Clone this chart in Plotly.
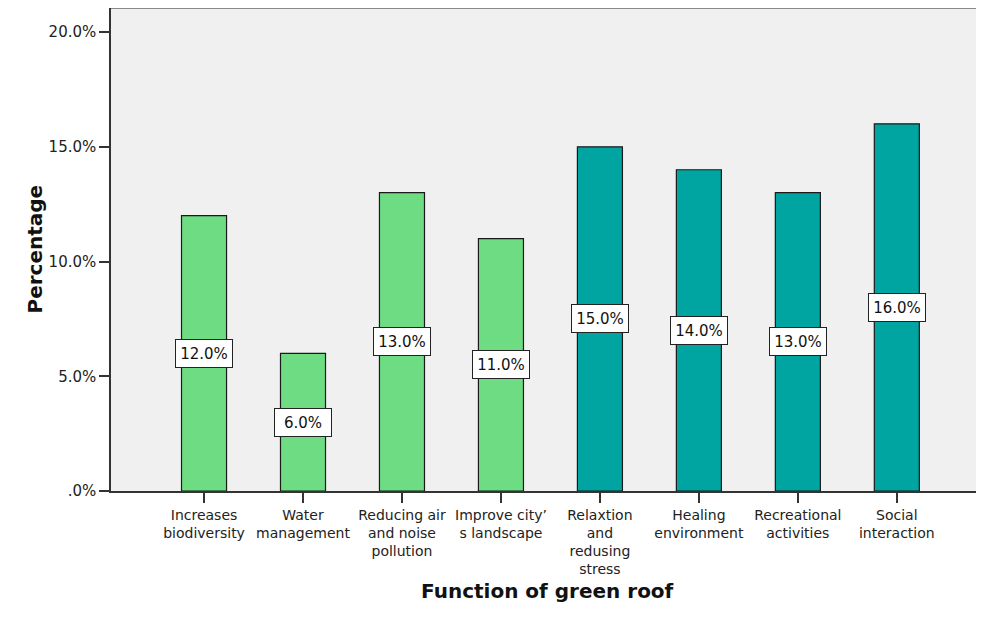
import plotly.graph_objects as go

categories = ["Increases<br>biodiversity", "Water<br>management", "Reducing air<br>and noise<br>pollution",
              "Improve city\u2019<br>s landscape", "Relaxtion<br>and<br>redusing<br>stress",
              "Healing<br>environment", "Recreational<br>activities", "Social<br>interaction"]
values = [12.0, 6.0, 13.0, 11.0, 15.0, 14.0, 13.0, 16.0]
bar_colors = ["#6EDC82"] * 4 + ["#00A5A1"] * 4
y_tickvals = [0, 5, 10, 15, 20]
y_ticktext = [".0%", "5.0%", "10.0%", "15.0%", "20.0%"]

FONT = "DejaVu Sans, Verdana, Arial"
xs = list(range(len(categories)))

fig = go.Figure()
fig.add_trace(go.Bar(
    x=xs, y=values, width=0.455,
    marker=dict(color=bar_colors, line=dict(color="#1a1a1a", width=1.2)),
    hoverinfo="skip",
))

for x, v in zip(xs, values):
    fig.add_annotation(
        x=x, y=v / 2, text=f"{v:.1f}%", showarrow=False,
        font=dict(family=FONT, size=15, color="#111"),
        bgcolor="white", bordercolor="#222", borderwidth=1, borderpad=1,
        width=54, height=25,
    )

# axis titles
fig.add_annotation(xref="paper", yref="paper", x=0.5, y=0, xshift=4, yshift=-114,
                   text="<b>Function of green roof</b>", showarrow=False,
                   font=dict(family=FONT, size=20, color="#111"))
fig.add_annotation(xref="paper", yref="paper", x=0, y=0.5, xshift=-91,
                   text="<b>Percentage</b>", showarrow=False, textangle=-90,
                   font=dict(family=FONT, size=20, color="#111"))

# top border of plot area
fig.add_shape(type="line", xref="paper", yref="paper", x0=0, x1=1, y0=1, y1=1,
              line=dict(color="#8a8a8a", width=2))

fig.update_layout(
    width=968, height=604,
    margin=dict(l=103, r=0, t=0, b=121),
    paper_bgcolor="white", plot_bgcolor="#F0F0F0",
    showlegend=False,
    font=dict(family=FONT, size=14, color="#222"),
    xaxis=dict(
        range=[-0.94, 7.80], tickmode="array", tickvals=xs, ticktext=categories,
        tickangle=0,
        ticks="outside", ticklen=10, tickwidth=1.5, tickcolor="#333",
        showline=True, linecolor="#333", linewidth=1.5, showgrid=False, zeroline=False,
        tickfont=dict(family=FONT, size=14, color="#222"),
    ),
    yaxis=dict(
        range=[0, 21.05], tickmode="array", tickvals=y_tickvals, ticktext=y_ticktext,
        ticks="outside", ticklen=10, tickwidth=1.5, tickcolor="#333",
        showline=True, linecolor="#333", linewidth=1.5, showgrid=False, zeroline=False,
        tickfont=dict(family=FONT, size=15, color="#222"),
    ),
)

fig.write_html("out.html")
